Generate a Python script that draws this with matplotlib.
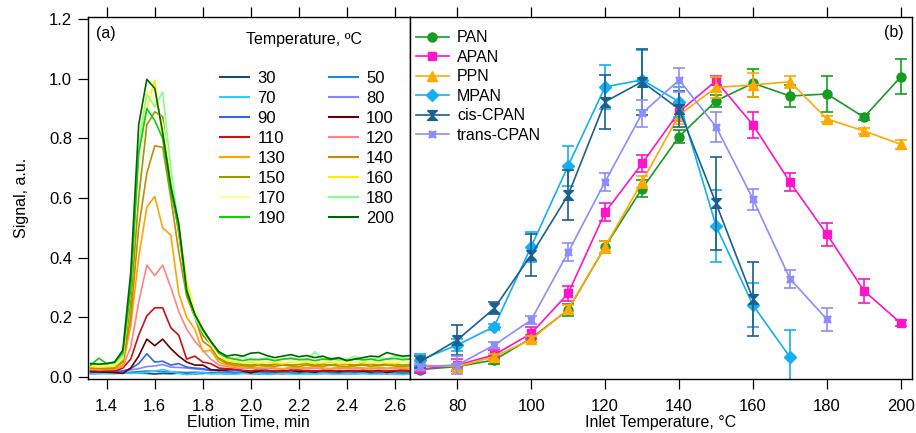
import matplotlib
matplotlib.use("Agg")
import matplotlib.pyplot as plt
from matplotlib.lines import Line2D

plt.rcParams['font.family'] = ['Liberation Sans', 'DejaVu Sans']

# ---- panel (a): chromatograms at each inlet temperature ----
elution_time = [1.333, 1.367, 1.400, 1.433, 1.467, 1.500, 1.533, 1.567, 1.600, 1.633,
                1.667, 1.700, 1.733, 1.767, 1.800, 1.833, 1.867, 1.900, 1.933, 1.967,
                2.000, 2.033, 2.067, 2.100, 2.133, 2.167, 2.200, 2.233, 2.267, 2.300,
                2.333, 2.367, 2.400, 2.433, 2.467, 2.500, 2.533, 2.567, 2.600, 2.633, 2.667]

trace_temps = [30, 50, 70, 80, 90, 100, 110, 120, 130, 140, 150, 160, 170, 180, 190, 200]
trace_colors = ['#1b4a73', '#2287cc', '#33ccff', '#8585ff', '#3366ee', '#660000',
                '#cc1111', '#ff8585', '#ffa500', '#cc8800', '#999900', '#ffee00',
                '#ffff99', '#88ff88', '#11cc11', '#006600']

sig_30 = [0.012, 0.012, 0.013, 0.012, 0.013, 0.014, 0.013, 0.012, 0.010, 0.012, 0.011, 0.013, 0.012, 0.011,
          0.012, 0.013, 0.012, 0.011, 0.012, 0.013, 0.012, 0.011, 0.012, 0.012, 0.011, 0.013, 0.012, 0.012,
          0.011, 0.012, 0.013, 0.012, 0.011, 0.012, 0.012, 0.013, 0.012, 0.011, 0.012, 0.012, 0.012]
sig_50 = [0.016, 0.015, 0.017, 0.016, 0.015, 0.016, 0.018, 0.020, 0.019, 0.018, 0.017, 0.016, 0.015, 0.016,
          0.015, 0.014, 0.016, 0.015, 0.014, 0.016, 0.015, 0.014, 0.015, 0.016, 0.014, 0.015, 0.016, 0.014,
          0.015, 0.016, 0.014, 0.015, 0.016, 0.015, 0.014, 0.015, 0.016, 0.015, 0.014, 0.015, 0.015]
sig_70 = [0.010, 0.012, 0.011, 0.012, 0.013, 0.012, 0.013, 0.015, 0.020, 0.025, 0.018, 0.012, 0.008, 0.012,
          0.015, 0.010, 0.012, 0.011, 0.009, 0.012, 0.010, 0.011, 0.009, 0.010, 0.012, 0.010, 0.009, 0.011,
          0.010, 0.012, 0.010, 0.009, 0.011, 0.010, 0.012, 0.009, 0.010, 0.011, 0.010, 0.008, 0.010]
sig_80 = [0.020, 0.021, 0.020, 0.022, 0.021, 0.024, 0.028, 0.035, 0.037, 0.042, 0.033, 0.032, 0.030, 0.027,
          0.025, 0.022, 0.022, 0.020, 0.021, 0.020, 0.019, 0.021, 0.020, 0.019, 0.020, 0.021, 0.019, 0.020,
          0.021, 0.019, 0.020, 0.020, 0.019, 0.021, 0.020, 0.019, 0.020, 0.021, 0.019, 0.020, 0.020]
sig_90 = [0.018, 0.017, 0.019, 0.018, 0.020, 0.028, 0.045, 0.078, 0.050, 0.053, 0.040, 0.045, 0.033, 0.030,
          0.028, 0.022, 0.024, 0.020, 0.022, 0.021, 0.020, 0.022, 0.019, 0.021, 0.022, 0.020, 0.021, 0.019,
          0.020, 0.022, 0.021, 0.020, 0.019, 0.021, 0.020, 0.022, 0.020, 0.019, 0.021, 0.020, 0.020]
sig_100 = [0.018, 0.017, 0.016, 0.015, 0.012, 0.030, 0.070, 0.127, 0.105, 0.127, 0.095, 0.070, 0.050, 0.040,
           0.040, 0.025, 0.022, 0.024, 0.030, 0.020, 0.014, 0.020, 0.022, 0.018, 0.020, 0.023, 0.018, 0.020,
           0.016, 0.022, 0.020, 0.018, 0.021, 0.019, 0.020, 0.017, 0.022, 0.015, 0.020, 0.025, 0.020]
sig_110 = [0.022, 0.020, 0.021, 0.020, 0.030, 0.060, 0.140, 0.205, 0.232, 0.232, 0.165, 0.140, 0.060, 0.070,
           0.050, 0.045, 0.030, 0.028, 0.025, 0.022, 0.020, 0.025, 0.022, 0.020, 0.018, 0.022, 0.025, 0.020,
           0.021, 0.020, 0.018, 0.022, 0.020, 0.019, 0.023, 0.020, 0.018, 0.020, 0.022, 0.020, 0.020]
sig_120 = [0.025, 0.024, 0.025, 0.026, 0.035, 0.100, 0.250, 0.375, 0.340, 0.375, 0.300, 0.220, 0.160, 0.120,
           0.090, 0.060, 0.040, 0.035, 0.030, 0.028, 0.030, 0.027, 0.030, 0.028, 0.026, 0.030, 0.028, 0.027,
           0.030, 0.028, 0.026, 0.030, 0.028, 0.027, 0.029, 0.030, 0.027, 0.028, 0.030, 0.027, 0.028]
sig_130 = [0.028, 0.027, 0.026, 0.028, 0.040, 0.170, 0.400, 0.570, 0.605, 0.500, 0.476, 0.280, 0.200, 0.160,
           0.085, 0.090, 0.050, 0.040, 0.035, 0.033, 0.030, 0.032, 0.035, 0.030, 0.028, 0.032, 0.030, 0.031,
           0.035, 0.030, 0.029, 0.032, 0.030, 0.033, 0.030, 0.028, 0.032, 0.030, 0.031, 0.030, 0.030]
sig_140 = [0.030, 0.030, 0.028, 0.030, 0.050, 0.200, 0.500, 0.683, 0.775, 0.770, 0.600, 0.420, 0.270, 0.200,
           0.120, 0.100, 0.060, 0.045, 0.040, 0.038, 0.035, 0.040, 0.038, 0.036, 0.040, 0.037, 0.035, 0.040,
           0.038, 0.036, 0.040, 0.037, 0.035, 0.038, 0.040, 0.036, 0.038, 0.040, 0.037, 0.035, 0.037]
sig_150 = [0.032, 0.030, 0.031, 0.033, 0.055, 0.250, 0.600, 0.845, 0.889, 0.873, 0.650, 0.480, 0.300, 0.210,
           0.140, 0.110, 0.065, 0.050, 0.045, 0.042, 0.040, 0.045, 0.040, 0.043, 0.045, 0.040, 0.042, 0.045,
           0.040, 0.043, 0.040, 0.045, 0.042, 0.040, 0.044, 0.042, 0.040, 0.045, 0.042, 0.040, 0.042]
sig_160 = [0.035, 0.033, 0.034, 0.036, 0.060, 0.300, 0.750, 0.900, 0.995, 0.800, 0.650, 0.500, 0.320, 0.220,
           0.160, 0.120, 0.070, 0.055, 0.050, 0.048, 0.050, 0.045, 0.050, 0.048, 0.045, 0.050, 0.047, 0.050,
           0.045, 0.048, 0.050, 0.046, 0.045, 0.050, 0.048, 0.045, 0.050, 0.047, 0.045, 0.050, 0.048]
sig_170 = [0.040, 0.038, 0.040, 0.042, 0.065, 0.320, 0.800, 0.962, 0.930, 0.850, 0.680, 0.500, 0.300, 0.220,
           0.160, 0.110, 0.070, 0.060, 0.055, 0.050, 0.055, 0.050, 0.052, 0.055, 0.050, 0.053, 0.050, 0.055,
           0.050, 0.052, 0.055, 0.050, 0.053, 0.050, 0.055, 0.050, 0.052, 0.050, 0.055, 0.050, 0.052]
sig_180 = [0.045, 0.042, 0.044, 0.045, 0.070, 0.300, 0.780, 0.948, 0.906, 0.956, 0.700, 0.500, 0.300, 0.200,
           0.150, 0.120, 0.080, 0.065, 0.060, 0.070, 0.055, 0.060, 0.065, 0.055, 0.060, 0.065, 0.060, 0.055,
           0.085, 0.060, 0.065, 0.055, 0.060, 0.070, 0.055, 0.060, 0.065, 0.060, 0.070, 0.065, 0.060]
sig_190 = [0.040, 0.063, 0.045, 0.050, 0.080, 0.300, 0.750, 0.900, 0.860, 0.800, 0.620, 0.500, 0.280, 0.210,
           0.160, 0.120, 0.080, 0.065, 0.060, 0.055, 0.060, 0.058, 0.060, 0.055, 0.060, 0.062, 0.058, 0.060,
           0.055, 0.060, 0.058, 0.062, 0.055, 0.060, 0.058, 0.060, 0.055, 0.060, 0.062, 0.058, 0.060]
sig_200 = [0.045, 0.043, 0.045, 0.050, 0.090, 0.350, 0.845, 0.998, 0.968, 0.820, 0.640, 0.515, 0.290, 0.210,
           0.160, 0.120, 0.085, 0.070, 0.075, 0.070, 0.080, 0.082, 0.072, 0.065, 0.070, 0.075, 0.068, 0.072,
           0.065, 0.070, 0.060, 0.065, 0.055, 0.060, 0.065, 0.070, 0.068, 0.082, 0.075, 0.070, 0.072]

traces = [sig_30, sig_50, sig_70, sig_80, sig_90, sig_100, sig_110, sig_120,
          sig_130, sig_140, sig_150, sig_160, sig_170, sig_180, sig_190, sig_200]

# ---- panel (b): normalised peak signal vs inlet temperature ----
inlet_temp = [70, 80, 90, 100, 110, 120, 130, 140, 150, 160, 170, 180, 190, 200]

pan = [0.025, 0.035, 0.057, 0.130, 0.225, 0.437, 0.632, 0.806, 0.926, 0.985, 0.942, 0.949, 0.871, 1.007]
pan_err = [0.010, 0.010, 0.012, 0.012, 0.020, 0.020, 0.030, 0.022, 0.020, 0.047, 0.038, 0.059, 0.010, 0.059]
apan = [0.026, 0.040, 0.074, 0.146, 0.280, 0.552, 0.716, 0.889, 0.993, 0.845, 0.653, 0.478, 0.289, 0.180]
apan_err = [0.010, 0.020, 0.015, 0.020, 0.025, 0.030, 0.030, 0.030, 0.015, 0.045, 0.030, 0.040, 0.040, 0.010]
ppn = [0.040, 0.035, 0.068, 0.126, 0.227, 0.437, 0.655, 0.878, 0.971, 0.979, 0.990, 0.865, 0.825, 0.780]
ppn_err = [0.010, 0.010, 0.010, 0.010, 0.015, 0.020, 0.020, 0.030, 0.035, 0.040, 0.020, 0.010, 0.010, 0.015]
mpan = [0.057, 0.107, 0.169, 0.437, 0.708, 0.973, 0.996, 0.923, 0.506, 0.241, 0.066]
mpan_err = [0.020, 0.020, 0.010, 0.050, 0.066, 0.073, 0.100, 0.050, 0.120, 0.075, 0.090]
cis_cpan = [0.051, 0.124, 0.230, 0.409, 0.610, 0.923, 0.990, 0.898, 0.582, 0.261]
cis_cpan_err = [0.020, 0.050, 0.020, 0.070, 0.085, 0.090, 0.110, 0.060, 0.155, 0.125]
trans_cpan = [0.035, 0.040, 0.107, 0.191, 0.418, 0.655, 0.884, 0.996, 0.839, 0.596, 0.329, 0.193]
trans_cpan_err = [0.010, 0.030, 0.010, 0.012, 0.030, 0.030, 0.045, 0.040, 0.050, 0.035, 0.030, 0.040]

hourglass = [(-1, 1), (1, 1), (-1, -1), (1, -1), (-1, 1)]
species = [
    ('PAN', pan, pan_err, '#169c22', 'o', 6.5),
    ('APAN', apan, apan_err, '#ff14c8', 's', 6),
    ('PPN', ppn, ppn_err, '#ffaa00', '^', 7),
    ('MPAN', mpan, mpan_err, '#12b0f2', 'D', 6.5),
    ('cis-CPAN', cis_cpan, cis_cpan_err, '#1a6090', hourglass, 7),
    ('trans-CPAN', trans_cpan, trans_cpan_err, '#8c8cff', (4, 1, 45), 7),
]

fig = plt.figure(figsize=(9.16, 4.33), dpi=100)
W, H = 916.0, 433.0
bottom = 1 - 378.5 / H
height = 361.5 / H
ax1 = fig.add_axes([88 / W, bottom, 321.5 / W, height])
ax2 = fig.add_axes([409.5 / W, bottom, 502.2 / W, height])

for sig, col in zip(traces, trace_colors):
    ax1.plot(elution_time, sig, color=col, lw=1.2)

ax1.set_xlim(1.322, 2.661)
ax1.set_ylim(-0.005, 1.207)
ax1.set_xticks([1.4, 1.6, 1.8, 2.0, 2.2, 2.4, 2.6])
ax1.set_yticks([0.0, 0.2, 0.4, 0.6, 0.8, 1.0, 1.2])
ax1.set_xticklabels(['1.4', '1.6', '1.8', '2.0', '2.2', '2.4', '2.6'])
ax1.set_yticklabels(['0.0', '0.2', '0.4', '0.6', '0.8', '1.0', '1.2'])
ax1.set_xlabel('Elution Time, min', fontsize=11.5, labelpad=1)
ax1.set_ylabel('Signal, a.u.', fontsize=11.5, labelpad=14)
ax1.text(0.025, 0.953, '(a)', transform=ax1.transAxes, fontsize=11.5, va='center', ha='left')
ax1.text(0.672, 0.937, 'Temperature, \u00baC', transform=ax1.transAxes, fontsize=11.5,
         va='center', ha='center')

# legend is row-major in the reference, so feed the columns in order
lines = [Line2D([], [], color=c, lw=1.5) for c in trace_colors]
order = list(range(0, 16, 2)) + list(range(1, 16, 2))
ax1.legend([lines[i] for i in order], [str(trace_temps[i]) for i in order],
           ncol=2, loc='upper left', bbox_to_anchor=(0.41, 0.85), frameon=False,
           fontsize=12, handlelength=1.75, handletextpad=0.5, columnspacing=2.6,
           labelspacing=0.3, borderpad=0, borderaxespad=0)

for name, vals, err, col, mk, ms in species:
    x = inlet_temp[:len(vals)]
    ax2.errorbar(x, vals, yerr=err, fmt='none', ecolor=col, elinewidth=1.2,
                 capsize=4, capthick=1.2)
    ax2.plot(x, vals, color=col, lw=1.2, marker=mk, ms=ms, mec=col, mfc=col, label=name)

ax2.set_xlim(67.1, 202.9)
ax2.set_ylim(-0.005, 1.207)
ax2.set_xticks([80, 100, 120, 140, 160, 180, 200])
ax2.set_yticks([])
ax2.set_xlabel('Inlet Temperature, \u00b0C', fontsize=11.5, labelpad=1)
ax2.text(0.983, 0.956, '(b)', transform=ax2.transAxes, fontsize=11.5, va='center', ha='right')
ax2.legend(loc='upper left', bbox_to_anchor=(0.012, 0.963), frameon=False, fontsize=11.5,
           handlelength=2.1, handletextpad=0.5, labelspacing=0.28, numpoints=1,
           borderpad=0, borderaxespad=0)

for ax in (ax1, ax2):
    ax.tick_params(axis='x', which='major', direction='out', length=7.5, width=0.9,
                   top=True, labelsize=12, pad=7)
    ax.tick_params(axis='y', which='major', direction='out', length=7.5, width=0.9,
                   right=False, labelsize=12, pad=4)
    for sp in ax.spines.values():
        sp.set_linewidth(1.0)

fig.savefig('out.png', dpi=100)
